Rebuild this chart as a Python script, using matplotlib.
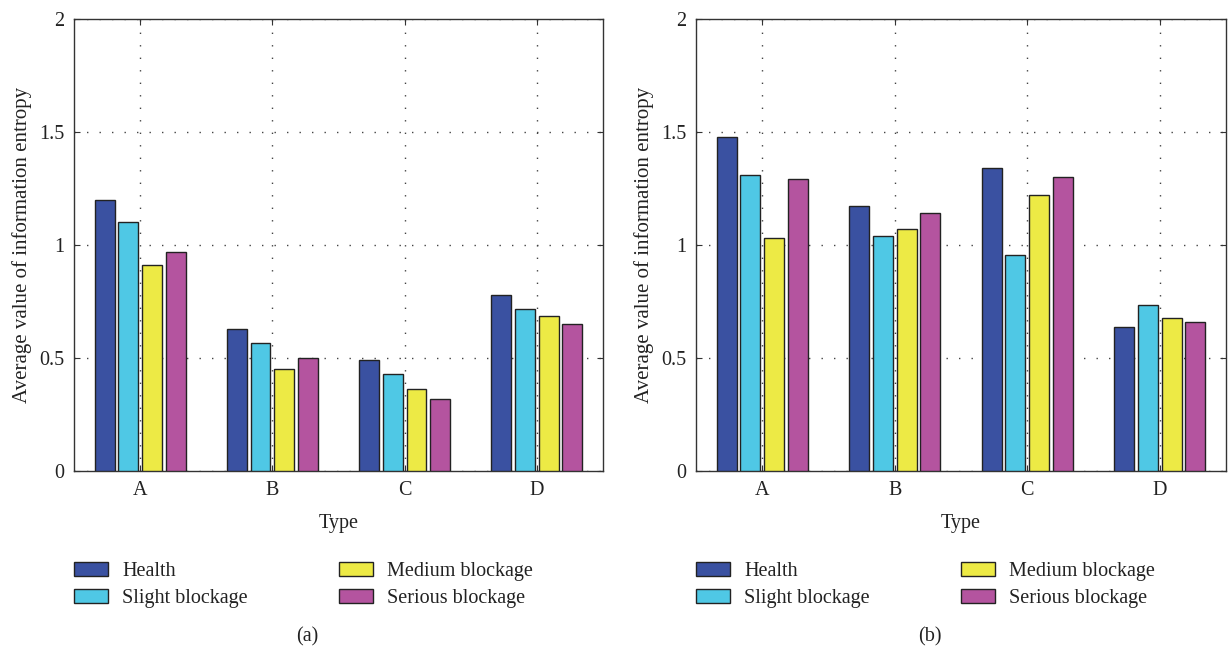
import matplotlib
matplotlib.use("Agg")
import matplotlib.pyplot as plt
import numpy as np

plt.rcParams['font.family'] = ['Liberation Serif', 'DejaVu Serif']
plt.rcParams['lines.scale_dashes'] = False

categories = ['A', 'B', 'C', 'D']
series_names = ['Health', 'Slight blockage', 'Medium blockage', 'Serious blockage']
colors = ['#3A51A1', '#4FC8E5', '#EDEA45', '#B4549F']

values_a = {
    'Health':           [1.20, 0.627, 0.491, 0.777],
    'Slight blockage':  [1.103, 0.565, 0.429, 0.715],
    'Medium blockage':  [0.913, 0.453, 0.361, 0.687],
    'Serious blockage': [0.968, 0.499, 0.317, 0.649],
}
values_b = {
    'Health':           [1.477, 1.174, 1.341, 0.638],
    'Slight blockage':  [1.310, 1.038, 0.954, 0.736],
    'Medium blockage':  [1.031, 1.069, 1.220, 0.676],
    'Serious blockage': [1.293, 1.143, 1.302, 0.660],
}
yticks = [0, 0.5, 1, 1.5, 2]
yticklabels = ['0', '0.5', '1', '1.5', '2']
captions = ['(a)', '(b)']

fig = plt.figure(figsize=(12.28, 6.5), dpi=100)
txt = '#222222'
fs = 14.5

positions = [(74, 603), (696, 1226)]
for k, (vals, (x0, x1)) in enumerate(zip([values_a, values_b], positions)):
    ax = fig.add_axes([x0 / 1228, 1 - 471 / 650, (x1 - x0) / 1228, 452 / 650])
    x = np.arange(1, len(categories) + 1)
    step = 0.179
    width = 0.15
    handles = []
    for i, name in enumerate(series_names):
        b = ax.bar(x + (i - 1.5) * step, vals[name], width=width, color=colors[i],
                   edgecolor='#222222', linewidth=1.0, zorder=3, label=name)
        handles.append(b)
    ax.set_xlim(0.5, 4.5)
    ax.set_ylim(0, 2)
    ax.set_xticks(x)
    ax.set_xticklabels(categories, fontsize=fs, color=txt)
    ax.set_yticks(yticks)
    ax.set_yticklabels(yticklabels, fontsize=fs, color=txt)
    ax.tick_params(direction='in', top=True, right=True, length=4, width=0.8,
                   colors='#333333', labelcolor=txt, pad=7)
    ax.grid(True, color='#444444', linestyle=(0, (1.0, 8.0)), linewidth=1.0, zorder=0)
    ax.set_axisbelow(True)
    for s in ax.spines.values():
        s.set_linewidth(1.0)
        s.set_color('#333333')
    ax.set_xlabel('Type', fontsize=fs, color=txt, labelpad=10)
    ax.set_ylabel('Average value of information entropy', fontsize=15, color=txt, labelpad=5)
    leg = fig.legend(handles=handles, labels=series_names, ncol=2, frameon=False,
                     loc='upper left', bbox_to_anchor=(x0 / 1228, 1 - 562 / 650),
                     fontsize=fs, handlelength=1.7, handleheight=0.65, handletextpad=0.7,
                     columnspacing=4.5, labelspacing=0.4, borderpad=0, borderaxespad=0)
    for t in leg.get_texts():
        t.set_color(txt)
    cx = (x0 + x1) / 2 - 31
    fig.text(cx / 1228, 1 - 637 / 650, captions[k], ha='center', va='center',
             fontsize=fs, color=txt)

fig.savefig('out.png', dpi=100)
